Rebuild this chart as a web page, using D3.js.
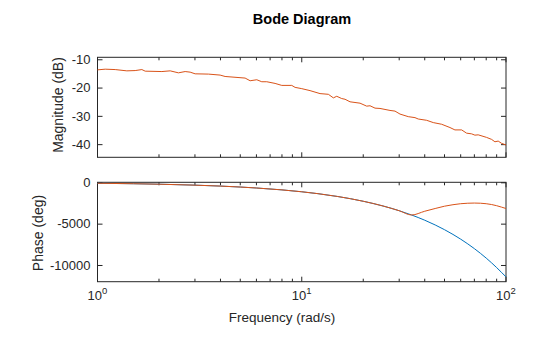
<!DOCTYPE html>
<html><head><meta charset="utf-8">
<script src="https://cdn.jsdelivr.net/npm/d3@7/dist/d3.min.js"></script>
<style>body{margin:0;background:#fff}svg{display:block}text{font-family:"Liberation Sans",Arial,sans-serif}</style>
</head><body><svg id="c" width="560" height="337"></svg>
<script>
const magFreq = [1.0,1.091,1.221,1.392,1.529,1.649,1.712,2.066,2.269,2.49,2.686,2.842,3.006,3.492,3.984,4.214,5.28,5.587,6.024,6.372,6.742,7.403,7.984,8.935,9.274,10.0,10.98,12.29,13.5,14.28,14.84,15.69,16.29,17.23,19.29,20.8,21.59,22.84,24.16,27.04,28.61,30.27,33.23,35.84,37.2,40.89,44.05,48.41,53.17,56.23,60.65,64.15,67.87,70.44,73.11,80.37,85.02,88.25,91.58,95.16,100];
const magDb = [-13.74,-13.5,-13.64,-14.09,-13.99,-13.64,-14.2,-14.34,-14.09,-14.79,-14.34,-14.55,-15.14,-15.24,-15.59,-16.08,-16.64,-17.59,-17.24,-17.94,-17.94,-18.53,-19.23,-19.23,-19.93,-20.38,-21.08,-22.13,-22.38,-23.64,-23.08,-23.88,-24.13,-25.03,-25.52,-26.57,-26.43,-27.27,-27.38,-28.08,-28.32,-29.37,-30.28,-30.63,-31.12,-31.57,-32.38,-32.97,-34.13,-34.97,-34.97,-36.12,-36.36,-36.82,-36.71,-37.62,-38.32,-39.16,-38.92,-39.72,-40.3];
const phaseFreq = [1,1.5,2,3,4,5,6,8,10,12,15,20,25,30,34.5,40,45,50,55,60,65,70,75,80,85,90,95,100];
const phaseBlue = [-115,-172,-229,-344,-458,-573,-688,-917,-1146,-1375,-1719,-2292,-2865,-3438,-3954,-4584,-5157,-5730,-6303,-6875,-7448,-8021,-8594,-9167,-9740,-10313,-10886,-11440];
const phaseOrange = [-115,-172,-229,-344,-458,-573,-688,-917,-1146,-1375,-1719,-2292,-2865,-3438,-3954,-3500,-3170,-2890,-2710,-2590,-2530,-2510,-2530,-2590,-2690,-2830,-3000,-3170];
const magTicks = [-10,-20,-30,-40];
const phaseTicks = [0,-5000,-10000];
const freqTicks = [1,10,100];
const freqTickExp = ["0","1","2"];

const svg = d3.select("#c");
const L = 97.5, R = 506, axCol = "#262626";
const x = d3.scaleLog().domain([1,100]).range([L,R]);
const yM = d3.scaleLinear().domain([-44.65,-9.3]).range([157.3,57.3]);
const yP = d3.scaleLinear().domain([-12020,0]).range([281.7,182.3]);
const minor = [];
for (let d of [1,10]) for (let k=2;k<=9;k++) minor.push(d*k);

function panel(y, ticks, top, bot) {
  const g = svg.append("g");
  g.append("g").attr("transform",`translate(${L},0)`)
    .call(d3.axisLeft(y).tickValues(ticks).tickSize(-5).tickPadding(7).tickFormat(d=>String(d)))
    .call(s=>{s.select(".domain").remove();s.selectAll("line").attr("stroke",axCol);s.selectAll("text").attr("fill",axCol).attr("font-size",13).attr("font-family","Liberation Sans, Arial, sans-serif");});
  g.append("g").attr("transform",`translate(${R},0)`)
    .call(d3.axisRight(y).tickValues(ticks).tickSize(-5).tickFormat(""))
    .call(s=>{s.select(".domain").remove();s.selectAll("line").attr("stroke",axCol);});
  for (const [yy,dir] of [[top,1],[bot,-1]]) {
    const ax = g.append("g");
    ax.selectAll("line.maj").data(freqTicks).join("line")
      .attr("x1",d=>x(d)).attr("x2",d=>x(d)).attr("y1",yy).attr("y2",yy+dir*5).attr("stroke",axCol);
    ax.selectAll("line.min").data(minor).join("line")
      .attr("x1",d=>x(d)).attr("x2",d=>x(d)).attr("y1",yy).attr("y2",yy+dir*3).attr("stroke",axCol);
  }
  g.append("rect").attr("x",L).attr("y",top).attr("width",R-L).attr("height",bot-top)
    .attr("fill","none").attr("stroke",axCol).attr("stroke-width",1);
  return g;
}
panel(yM, magTicks, 57.3, 157.3);
panel(yP, phaseTicks, 182.3, 281.7);

const xl = svg.append("g");
freqTicks.forEach((f,i)=>{
  const t = xl.append("text").attr("x",x(f)).attr("y",300).attr("text-anchor","middle").attr("fill",axCol).attr("font-size",13);
  t.append("tspan").text("10");
  t.append("tspan").attr("dy",-6).attr("font-size",9.5).text(freqTickExp[i]);
});

const lineM = d3.line().x((d,i)=>x(magFreq[i])).y(d=>yM(d));
svg.append("path").datum(magDb).attr("d",lineM).attr("fill","none").attr("stroke","#D95319").attr("stroke-width",1);

const lineP = d3.line().curve(d3.curveMonotoneX).x((d,i)=>x(phaseFreq[i])).y(d=>yP(d));
svg.append("path").datum(phaseBlue).attr("d",lineP).attr("fill","none").attr("stroke","#0072BD").attr("stroke-width",1);
svg.append("path").datum(phaseOrange).attr("d",lineP).attr("fill","none").attr("stroke","#D95319").attr("stroke-width",1);

svg.append("text").attr("x",302).attr("y",24).attr("text-anchor","middle").attr("font-weight","bold").attr("font-size",14.5).attr("fill","#000").text("Bode Diagram");
svg.append("text").attr("x",282).attr("y",322).attr("text-anchor","middle").attr("font-size",13.5).attr("fill",axCol).text("Frequency (rad/s)");
svg.append("text").attr("transform","translate(63,105) rotate(-90)").attr("text-anchor","middle").attr("font-size",14).attr("fill",axCol).text("Magnitude (dB)");
svg.append("text").attr("transform","translate(43,233) rotate(-90)").attr("text-anchor","middle").attr("font-size",14).attr("fill",axCol).text("Phase (deg)");
</script></body></html>
